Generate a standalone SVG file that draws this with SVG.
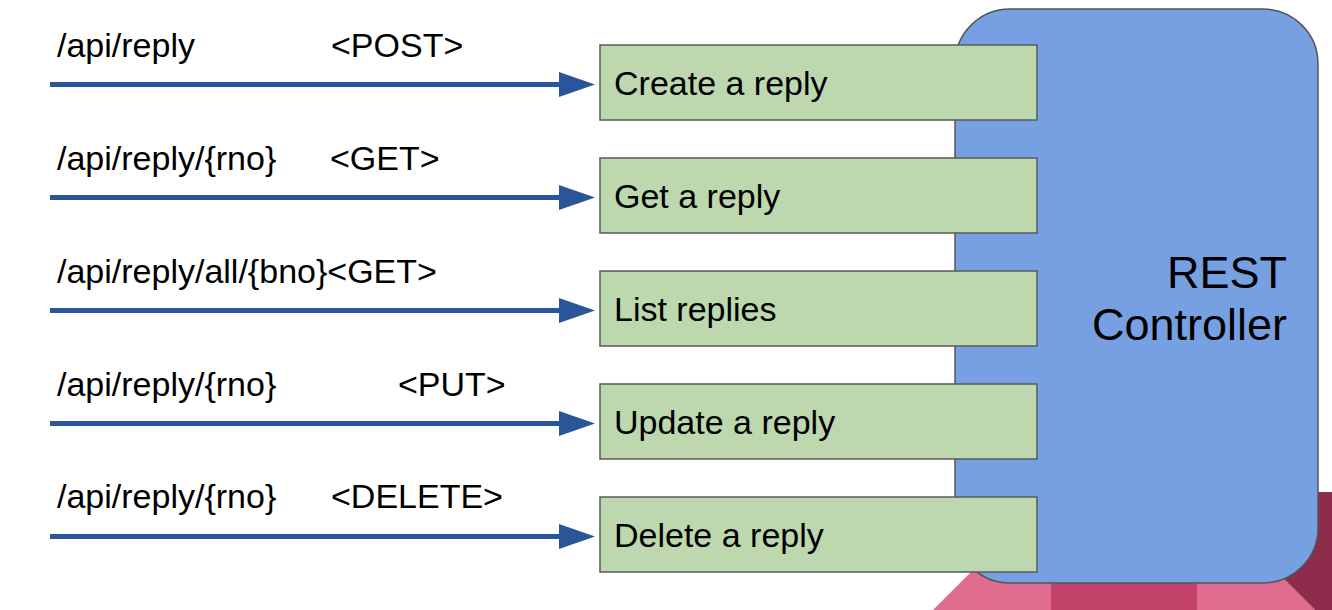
<svg xmlns="http://www.w3.org/2000/svg" width="1332" height="610" viewBox="0 0 1332 610">
<style>
text{font-family:"Liberation Sans",Arial,sans-serif;fill:#000}
.lbl{font-size:34px}
.box{fill:#BDD7AE;stroke:#5a5a5a;stroke-width:1.5}
.ln{stroke:#2A5699;stroke-width:5;fill:none}
.hd{fill:#2A5699}
</style>
<defs>
<polygon id="ah" points="0,-12.5 36,0 0,12.5" class="hd"/>
</defs>
<g id="background">
<polygon points="933,610 1051,492 1051,610" fill="#E06C8F"/>
<rect x="1051" y="492" width="146" height="118" fill="#C2426A"/>
<polygon points="1197,492 1315,610 1197,610" fill="#E06C8F"/>
<polygon points="1197,492 1332,492 1332,610 1315,610" fill="#8D2D4B"/>
</g>
<g id="rest-controller">
<rect x="955" y="9" width="363" height="574" rx="55" ry="55" fill="#77A0E3" stroke="#555" stroke-width="1.5"/>
<text x="1287" y="288" font-size="45" text-anchor="end">REST</text>
<text x="1287" y="340" font-size="45" text-anchor="end">Controller</text>
</g>
<g id="connectors">
<line class="ln" x1="50" y1="84.5" x2="562" y2="84.5"/>
<use href="#ah" x="559" y="84.5"/>
<line class="ln" x1="50" y1="197.5" x2="562" y2="197.5"/>
<use href="#ah" x="559" y="197.5"/>
<line class="ln" x1="50" y1="310.5" x2="562" y2="310.5"/>
<use href="#ah" x="559" y="310.5"/>
<line class="ln" x1="50" y1="423.5" x2="562" y2="423.5"/>
<use href="#ah" x="559" y="423.5"/>
<line class="ln" x1="50" y1="536.5" x2="562" y2="536.5"/>
<use href="#ah" x="559" y="536.5"/>
</g>
<g id="labels">
<text class="lbl" x="57" y="57">/api/reply</text>
<text class="lbl" x="331" y="57">&lt;POST&gt;</text>
<text class="lbl" x="57" y="170">/api/reply/{rno}</text>
<text class="lbl" x="330" y="170">&lt;GET&gt;</text>
<text class="lbl" x="57" y="283">/api/reply/all/{bno}&lt;GET&gt;</text>
<text class="lbl" x="57" y="396">/api/reply/{rno}</text>
<text class="lbl" x="398" y="396">&lt;PUT&gt;</text>
<text class="lbl" x="57" y="508">/api/reply/{rno}</text>
<text class="lbl" x="331" y="508">&lt;DELETE&gt;</text>
</g>
<g id="create">
<rect class="box" x="600" y="45" width="437" height="75"/>
<text class="lbl" x="614" y="95">Create a reply</text>
</g>
<g id="get">
<rect class="box" x="600" y="158" width="437" height="75"/>
<text class="lbl" x="614" y="208">Get a reply</text>
</g>
<g id="list">
<rect class="box" x="600" y="271" width="437" height="75"/>
<text class="lbl" x="614" y="321">List replies</text>
</g>
<g id="update">
<rect class="box" x="600" y="384" width="437" height="75"/>
<text class="lbl" x="614" y="434">Update a reply</text>
</g>
<g id="delete">
<rect class="box" x="600" y="497" width="437" height="75"/>
<text class="lbl" x="614" y="547">Delete a reply</text>
</g>
</svg>
